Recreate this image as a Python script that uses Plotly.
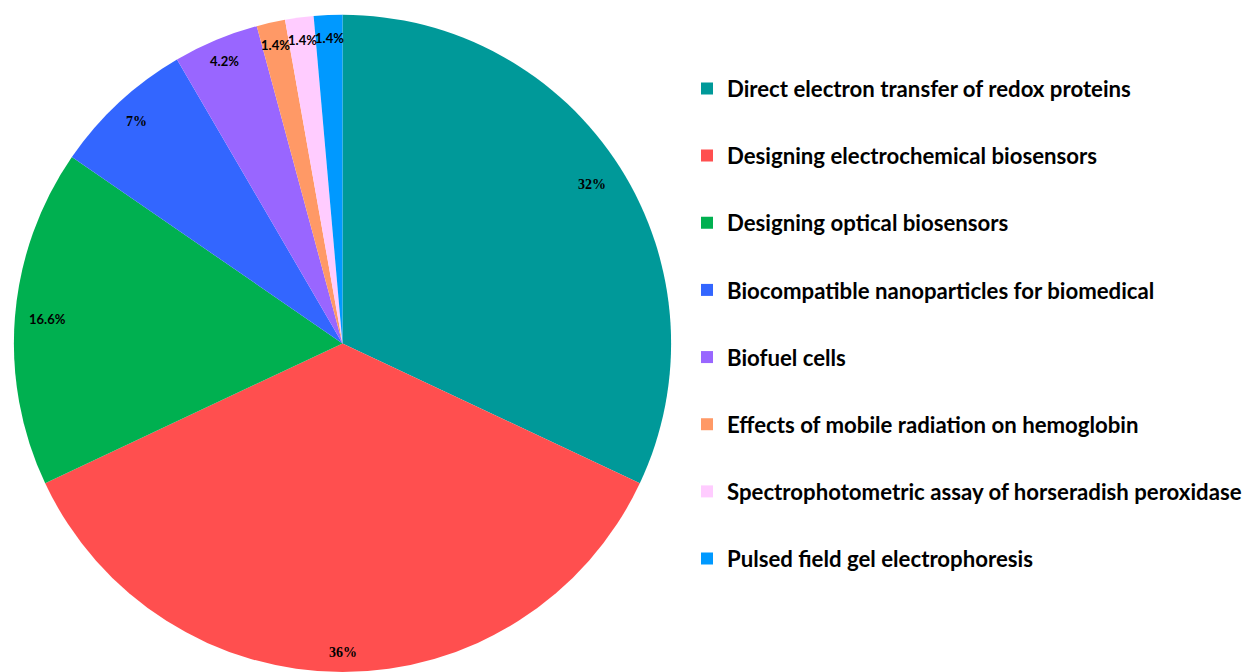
import math
import plotly.graph_objects as go

categories = [
    "Direct electron transfer of redox proteins",
    "Designing electrochemical biosensors",
    "Designing optical biosensors",
    "Biocompatible nanoparticles for biomedical",
    "Biofuel cells",
    "Effects of mobile radiation on hemoglobin",
    "Spectrophotometric assay of horseradish peroxidase",
    "Pulsed field gel electrophoresis",
]
values = [32, 36, 16.6, 7, 4.2, 1.4, 1.4, 1.4]
value_labels = ["32%", "36%", "16.6%", "7%", "4.2%", "1.4%", "1.4%", "1.4%"]
colors = ["#009999", "#FF4F4F", "#00B050", "#3366FF", "#9966FF", "#FF9966", "#FFCCFF", "#0099FF"]
# label placement (fraction of radius) and font
label_rfrac = [0.90, 0.94, 0.90, 0.92, 0.93, 0.93, 0.93, 0.93]
label_font = ["Liberation Serif", "Liberation Serif", "Lato", "Liberation Serif",
              "Lato", "Lato", "Lato", "Lato"]

W, H = 1253, 672
dom_x = [13 / W, 672 / W]
dom_y = [0.0, 0.978]

fig = go.Figure()
fig.add_trace(go.Pie(
    labels=categories, values=values, sort=False, direction="clockwise", rotation=0,
    marker=dict(colors=colors, line=dict(width=0)),
    textinfo="none", hoverinfo="label+percent", showlegend=False,
    domain=dict(x=dom_x, y=dom_y),
))

# geometry of the pie in pixels (plotly fits pie into the smaller domain side)
dw = (dom_x[1] - dom_x[0]) * W
dh = (dom_y[1] - dom_y[0]) * H
R = min(dw, dh) / 2
cx = (dom_x[0] + dom_x[1]) / 2 * W
cy = (1 - (dom_y[0] + dom_y[1]) / 2) * H

total = sum(values)
cum = 0
for v, lab, f, fam in zip(values, value_labels, label_rfrac, label_font):
    mid = (cum + v / 2) / total * 360
    cum += v
    th = math.radians(mid)
    px = cx + R * f * math.sin(th)
    py = cy - R * f * math.cos(th)
    fig.add_annotation(x=px / W, y=1 - py / H, xref="paper", yref="paper",
                       xanchor="center", yanchor="middle",
                       text=lab, showarrow=False,
                       font=dict(family=fam, size=14 if fam.startswith("Lib") else 13,
                                 color="#000000", weight="bold"))

for name, c in zip(categories, colors):
    fig.add_trace(go.Scatter(x=[None], y=[None], mode="markers", name=name,
                             marker=dict(symbol="square", size=12, color=c),
                             legendgroup=name, showlegend=True))

fig.update_layout(
    width=W, height=H, margin=dict(l=0, r=0, t=0, b=0, autoexpand=False),
    paper_bgcolor="white", plot_bgcolor="white",
    xaxis=dict(visible=False), yaxis=dict(visible=False),
    legend=dict(x=687 / W, y=1 - 67.5 / H, xanchor="left", yanchor="top",
                font=dict(family="Lato", size=22.2, color="#000000", weight="bold"),
                tracegroupgap=35.3, itemsizing="constant", bgcolor="rgba(0,0,0,0)"),
)
fig.write_html("out.html")
